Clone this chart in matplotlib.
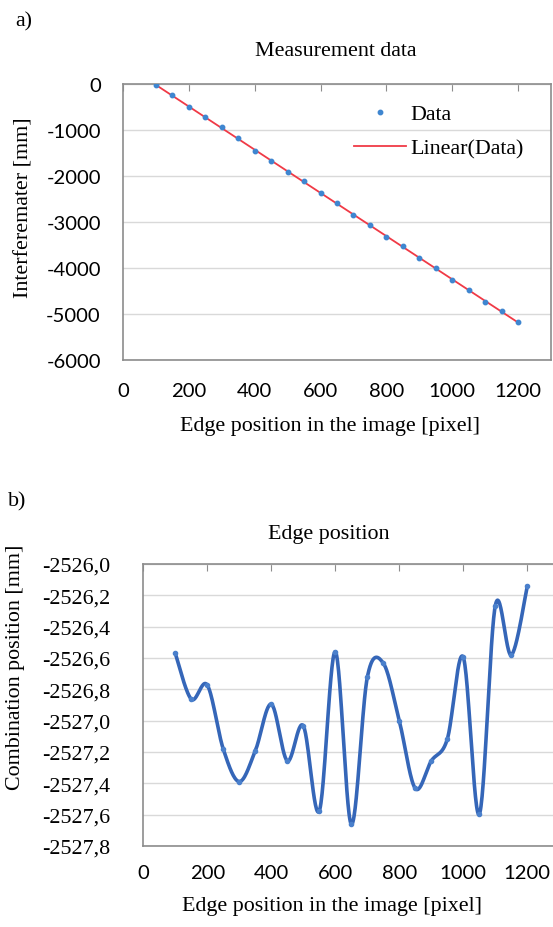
import matplotlib.pyplot as plt
import numpy as np

# Measurement data (top chart)
edge_px = [100, 150, 200, 250, 300, 350, 400, 450, 500, 550, 600, 650,
           700, 750, 800, 850, 900, 950, 1000, 1050, 1100, 1150, 1200]
interf_mm = [-14, -239, -506, -723, -940, -1179, -1461, -1670, -1916, -2118,
             -2379, -2581, -2856, -3073, -3319, -3528, -3774, -3991, -4266,
             -4483, -4729, -4931, -5184]

# Edge position (bottom chart)
comb_mm = [-2526.571, -2526.863, -2526.773, -2527.182, -2527.389, -2527.193,
           -2526.895, -2527.257, -2527.033, -2527.576, -2526.560, -2527.661,
           -2526.724, -2526.633, -2527.001, -2527.433, -2527.257, -2527.118,
           -2526.596, -2527.597, -2526.266, -2526.581, -2526.143]

x_ticks = [0, 200, 400, 600, 800, 1000, 1200]
top_yticks = [0, -1000, -2000, -3000, -4000, -5000, -6000]
bot_yticks = [-2526.0, -2526.2, -2526.4, -2526.6, -2526.8, -2527.0,
              -2527.2, -2527.4, -2527.6, -2527.8]

SERIF = 'Liberation Serif'
SANS = 'Lato'
FS = 15.8
TFS = 14.6
FRAME = '#8c8c8c'
GRID = '#d9d9d9'


def smooth(x, y, n=30):
    # Excel-like smoothed line (Catmull-Rom style bezier)
    x = np.asarray(x, float)
    y = np.asarray(y, float)
    xp = np.concatenate([[x[0]], x, [x[-1]]])
    yp = np.concatenate([[y[0]], y, [y[-1]]])
    t = np.linspace(0, 1, n)[:, None]
    xs, ys = [], []
    for i in range(1, len(xp) - 2):
        p0 = np.array([xp[i], yp[i]])
        p3 = np.array([xp[i + 1], yp[i + 1]])
        p1 = p0 + (p3 - np.array([xp[i - 1], yp[i - 1]])) / 6
        p2 = p3 - (np.array([xp[i + 2], yp[i + 2]]) - p0) / 6
        pts = ((1 - t) ** 3) * p0 + 3 * ((1 - t) ** 2) * t * p1 + 3 * (1 - t) * t ** 2 * p2 + t ** 3 * p3
        xs.append(pts[:, 0])
        ys.append(pts[:, 1])
    return np.concatenate(xs), np.concatenate(ys)


def style_axes(ax):
    for s in ax.spines.values():
        s.set_color(FRAME)
        s.set_linewidth(1.2)
    ax.grid(axis='y', color=GRID, linewidth=1.0)
    ax.set_axisbelow(True)
    ax.tick_params(axis='x', top=True, bottom=False, labeltop=False, labelbottom=True,
                   direction='in', length=5, color=FRAME, pad=16)
    ax.tick_params(axis='y', length=0)


fig = plt.figure(figsize=(5.53, 9.28), dpi=100)

# ---- a) ----
ax1 = fig.add_axes([0.2224, 0.6110, 0.7740, 0.2974])
ax1.plot(edge_px, interf_mm, 'o', color='#3f86d0', ms=3.2, label='Data', zorder=3)
k, b = np.polyfit(edge_px, interf_mm, 1)
fx = np.array([edge_px[0], edge_px[-1]])
ax1.plot(fx, k * fx + b, color='#f03a46', lw=1.3, label='Linear(Data)', zorder=2)
ax1.set_xlim(0, 1300)
ax1.set_ylim(-6000, 0)
ax1.set_xticks(x_ticks)
ax1.set_yticks(top_yticks)
style_axes(ax1)
ax1.tick_params(axis='y', pad=16)
ax1.set_yticklabels([str(v) for v in top_yticks], family=SANS, fontsize=TFS)
ax1.set_xticklabels([str(v) for v in x_ticks], family=SANS, fontsize=TFS)
leg = ax1.legend(loc='upper left', bbox_to_anchor=(343 / 553, 1 - 94 / 928),
                 bbox_transform=fig.transFigure, frameon=False, numpoints=1,
                 handlelength=2.35, handletextpad=0.2, borderpad=0, labelspacing=0.62,
                 prop={'family': SERIF, 'size': FS})
fig.text(336 / 553, 1 - 52 / 928, 'Measurement data', ha='center', va='center',
         family=SERIF, fontsize=FS)
fig.text(15 / 553, 1 - 22 / 928, 'a)', ha='left', va='center', family=SERIF, fontsize=FS)
fig.text(330 / 553, 1 - 427 / 928, 'Edge position in the image [pixel]', ha='center',
         va='center', family=SERIF, fontsize=FS)
fig.text(24 / 553, 1 - 208 / 928, 'Interferemater [mm]', ha='center', va='center',
         rotation=90, family=SERIF, fontsize=FS)

# ---- b) ----
ax2 = fig.add_axes([0.2591, 0.0873, 0.7523, 0.3039])
sx, sy = smooth(edge_px, comb_mm)
ax2.plot(sx, sy, color='#3566b8', lw=2.6, zorder=3)
ax2.plot(edge_px, comb_mm, 'o', color='#4a80cc', ms=3.0, zorder=4)
ax2.set_xlim(0, 1300)
ax2.set_ylim(-2527.8, -2526.0)
ax2.set_xticks(x_ticks)
ax2.set_yticks(bot_yticks)
style_axes(ax2)
ax2.tick_params(axis='y', pad=24)
ax2.tick_params(axis='x', pad=13)
ax2.set_xticklabels([str(v) for v in x_ticks], family=SANS, fontsize=TFS)
ax2.set_yticklabels([('%.1f' % v).replace('.', ',') for v in bot_yticks],
                    family=SERIF, fontsize=FS)
fig.text(329 / 553, 1 - 535 / 928, 'Edge position', ha='center', va='center',
         family=SERIF, fontsize=FS)
fig.text(8 / 553, 1 - 502 / 928, 'b)', ha='left', va='center', family=SERIF, fontsize=FS)
fig.text(332 / 553, 1 - 907 / 928, 'Edge position in the image [pixel]', ha='center',
         va='center', family=SERIF, fontsize=FS)
fig.text(16 / 553, 1 - 667 / 928, 'Combination position [mm]', ha='center', va='center',
         rotation=90, family=SERIF, fontsize=FS)

fig.savefig('out.png', dpi=100)
